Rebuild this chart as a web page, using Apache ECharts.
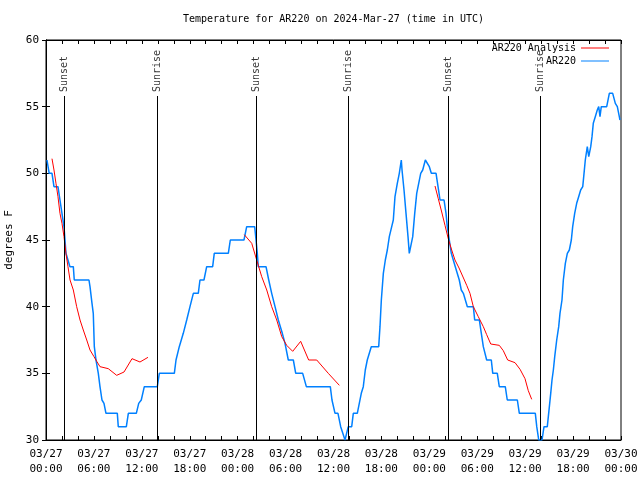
<!DOCTYPE html>
<html>
<head>
<meta charset="utf-8">
<script src="https://cdn.jsdelivr.net/npm/echarts@6/dist/echarts.min.js"></script>
<style>html,body{margin:0;padding:0;background:#fff}#c{width:640px;height:480px}</style>
</head>
<body>
<div id="c"></div>
<script>
// Hours since 03/27 00:00 UTC
var xTickLabels = ['03/27\n00:00','03/27\n06:00','03/27\n12:00','03/27\n18:00','03/28\n00:00','03/28\n06:00','03/28\n12:00','03/28\n18:00','03/29\n00:00','03/29\n06:00','03/29\n12:00','03/29\n18:00','03/30\n00:00'];

var blueTimes = [0.12,0.4,0.75,1.0,1.5,1.75,2.0,2.25,2.38,2.5,2.75,3.0,3.42,3.54,5.38,5.51,5.76,5.92,6.05,6.26,6.55,6.76,7.01,7.26,7.51,8.93,9.05,10.06,10.31,11.31,11.61,11.93,12.31,13.94,14.19,16.07,16.28,16.69,17.19,17.62,18.03,18.45,19.07,19.28,19.78,20.12,20.87,21.07,22.83,23.08,24.79,25.13,26.13,26.30,26.46,26.58,27.55,27.89,28.26,28.68,29.09,29.59,29.93,30.34,30.97,31.27,32.14,32.60,35.60,35.81,36.19,36.56,36.90,37.44,37.57,37.85,38.28,38.48,38.98,39.23,39.48,39.73,39.98,40.23,40.48,40.73,41.66,41.82,41.99,42.24,42.49,42.74,42.99,43.29,43.49,43.70,43.99,44.24,44.49,44.58,44.83,45.08,45.33,45.49,45.74,45.92,46.17,46.42,46.67,46.92,47.17,47.50,47.75,48.00,48.25,48.84,49.09,49.34,49.84,50.09,50.25,50.50,50.75,51.00,51.25,51.50,51.75,52.00,52.26,52.51,52.76,53.51,53.68,54.26,54.51,54.76,55.01,55.18,55.76,55.94,56.51,56.76,57.51,57.76,59.02,59.27,61.27,61.45,61.70,62.11,62.36,62.77,63.03,63.20,63.36,63.53,63.70,63.95,64.20,64.36,64.61,64.78,65.03,65.28,65.53,65.78,65.95,66.20,66.45,66.70,66.95,67.21,67.37,67.53,67.78,67.96,68.21,68.37,68.53,68.78,69.03,69.21,69.37,69.53,70.21,70.54,70.96,71.29,71.54,71.79,71.87];
var blueTemps = [51,50,50,49,49,48,47,46,45,44,43.5,43,43,42,42,41.5,40.25,39.5,37,36,35,34,33,32.75,32,32,31,31,32,32,32.75,33,34,34,35,35,36,37,38,39,40,41,41,42,42,43,43,44,44,45,45,46,46,45,44,43,43,42,41,40,39,38,37.25,36,36,35,35,34,34,33,32,32,31,30,30,31,31,32,32,32.75,33.5,34,35.25,36,36,37,37,38.5,40.5,42.5,43.5,44.25,45.25,46,46.5,48.25,49.25,50,51,50.25,48.75,47,45.25,44,44,45.25,47,48.5,49.25,50,50.25,51,51,50.5,50,50,49,48,48,47,46,45,44,44,43,43,42,41.25,41,41,40,40,39,39,38,37,37,36,36,35,35,34,34,33,33,32,32,31,30,30,31,31,32.5,33.5,34.5,35.25,36.25,37.5,38.5,39.5,40.5,42,43.25,44,44.25,45,46,47,47.75,48.25,48.75,49,50,51,52,51.25,52,52.75,53.75,54.25,54.75,55,54.25,55,55,56,56,55.25,55,54.25,54];

// null separates analysis segments
var redTimes = [0.75,1.0,1.25,1.5,1.75,2.0,2.25,2.5,2.75,3.01,3.42,3.84,4.26,4.67,5.10,5.51,6.01,6.35,6.76,7.80,8.85,9.77,10.77,11.77,12.77,null,
  24.83,25.76,26.38,27.01,27.64,28.26,28.89,29.52,30.14,30.89,31.89,32.89,33.90,35.35,36.73,null,
  48.71,49.12,49.55,49.96,50.37,50.80,51.21,51.72,52.68,53.09,53.51,54.13,54.76,55.18,55.69,56.76,57.26,57.81,58.73,59.36,59.98,60.39,60.82];
var redTemps = [51.1,50.25,49.25,48.25,47,46.25,45.25,44,43,42,41.25,40,39,38.25,37.5,36.75,36.25,35.9,35.5,35.35,34.85,35.1,36.1,35.85,36.2,null,
  45.4,44.75,43.5,42.25,41.25,40,39,37.75,37.1,36.65,37.4,36,36,35,34.1,null,
  49.05,48.1,47.1,46.1,45.1,44.25,43.5,42.9,41.6,41,40,39.25,38.5,37.9,37.2,37.1,36.7,36,35.8,35.3,34.6,33.7,33.05];

var sunLabels = ['Sunset','Sunrise','Sunset','Sunrise','Sunset','Sunrise'];
var sunTimes = [2.25,13.94,26.33,37.85,50.38,61.9];

var LINE_TOP = 55.8, LABEL_Y = 56.1, YMIN = 30, YMAX = 60;
var MONO = 'DejaVu Sans Mono';

function pairs(xs, ys) {
  return xs.map(function (x, i) { return (x === null || ys[i] === null) ? '-' : [x, ys[i]]; });
}

var chart = echarts.init(document.getElementById('c'), null, {renderer: 'canvas'});
var tickCommon = {inside: true, length: 4, lineStyle: {color: '#000', width: 1}};
chart.setOption({
  animation: false,
  backgroundColor: '#fff',
  title: {
    text: 'Temperature for AR220 on 2024-Mar-27 (time in UTC)',
    left: 183, top: 14, padding: 0,
    textStyle: {fontFamily: MONO, fontSize: 10, fontWeight: 'normal', color: '#000'}
  },
  legend: [
    {data: ['AR220 Analysis'], right: 31, top: 43, padding: 0, align: 'right', icon: 'rect', itemWidth: 28, itemHeight: 1,
     textStyle: {fontFamily: MONO, fontSize: 10, color: '#000'}},
    {data: ['AR220'], right: 31, top: 56, padding: 0, align: 'right', icon: 'rect', itemWidth: 28, itemHeight: 1,
     textStyle: {fontFamily: MONO, fontSize: 10, color: '#000'}}
  ],
  grid: {left: 46, right: 19, top: 40, bottom: 40, containLabel: false, outerBoundsMode: 'none',
         show: true, borderColor: '#000', borderWidth: 1, backgroundColor: '#fff'},
  xAxis: [
    {type: 'value', min: 0, max: 72, interval: 6, position: 'bottom',
     axisLine: {show: true, lineStyle: {color: '#000'}}, splitLine: {show: false},
     axisTick: tickCommon, minorTick: {show: true, splitNumber: 3, length: 4, lineStyle: {color: '#000'}},
     axisLabel: {fontFamily: MONO, fontSize: 11, color: '#000', margin: 7, lineHeight: 15,
       formatter: function (v) { return xTickLabels[Math.round(v / 6)] || ''; }}},
    {type: 'value', min: 0, max: 72, interval: 6, position: 'top',
     axisLine: {show: true, lineStyle: {color: '#000'}}, splitLine: {show: false},
     axisTick: tickCommon, minorTick: {show: true, splitNumber: 3, length: 4, lineStyle: {color: '#000'}},
     axisLabel: {show: false}}
  ],
  yAxis: [
    {type: 'value', min: YMIN, max: YMAX, interval: 5, position: 'left',
     name: 'degrees F', nameLocation: 'middle', nameGap: 30,
     nameTextStyle: {fontFamily: MONO, fontSize: 11, color: '#000'},
     axisLine: {show: true, lineStyle: {color: '#000'}}, splitLine: {show: false},
     axisTick: tickCommon,
     axisLabel: {fontFamily: MONO, fontSize: 11, color: '#000', margin: 7}},
    {type: 'value', min: YMIN, max: YMAX, interval: 5, position: 'right',
     axisLine: {show: true, lineStyle: {color: '#000'}}, splitLine: {show: false},
     axisTick: tickCommon, axisLabel: {show: false}}
  ],
  series: [
    {name: 'AR220', type: 'line', data: pairs(blueTimes, blueTemps), showSymbol: false, symbol: 'none',
     lineStyle: {color: '#0080ff', width: 1.5}, itemStyle: {color: '#0080ff'}, z: 3},
    {name: 'AR220 Analysis', type: 'line', data: pairs(redTimes, redTemps), showSymbol: false, symbol: 'none',
     connectNulls: false, lineStyle: {color: '#ff0000', width: 1}, itemStyle: {color: '#ff0000'}, z: 4},
    {name: 'sun', type: 'scatter', symbolSize: 0, silent: true, z: 5,
     data: sunTimes.map(function (t) { return [t, LABEL_Y]; }),
     label: {show: true, position: 'inside', rotate: 90, align: 'left', verticalAlign: 'middle',
       fontFamily: MONO, fontSize: 10, color: '#000',
       formatter: function (p) { return sunLabels[p.dataIndex]; }},
     markLine: {silent: true, symbol: ['none', 'none'], label: {show: false},
       lineStyle: {color: '#000', width: 1, type: 'solid'},
       data: sunTimes.map(function (t) { return [{coord: [t, YMIN]}, {coord: [t, LINE_TOP]}]; })}}
  ]
});
</script>
</body>
</html>
